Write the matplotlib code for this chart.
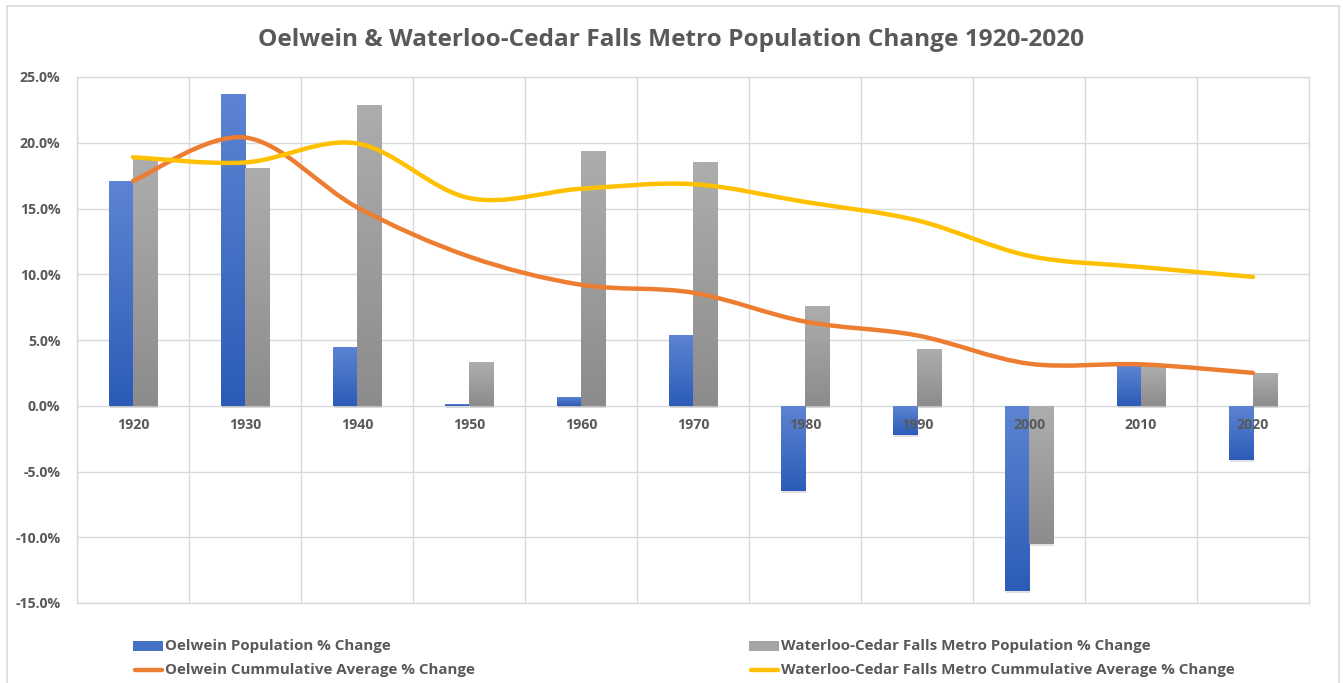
import numpy as np
import matplotlib
matplotlib.use("Agg")
import matplotlib.pyplot as plt
from matplotlib.path import Path
from matplotlib.patches import PathPatch, Rectangle
from matplotlib.lines import Line2D
from matplotlib.ticker import FuncFormatter
import matplotlib.transforms as mtransforms

plt.rcParams["font.family"] = ["Open Sans", "DejaVu Sans"]

years = ["1920", "1930", "1940", "1950", "1960", "1970", "1980", "1990", "2000", "2010", "2020"]
oelwein_change = [17.1, 23.7, 4.5, 0.1, 0.7, 5.4, -6.5, -2.2, -14.1, 3.0, -4.1]
metro_change = [18.9, 18.1, 22.9, 3.3, 19.4, 18.5, 7.6, 4.3, -10.5, 3.0, 2.5]
oelwein_cum_avg = [17.1, 20.4, 15.1, 11.35, 9.2, 8.6, 6.4, 5.35, 3.2, 3.15, 2.5]
metro_cum_avg = [18.9, 18.5, 19.95, 15.8, 16.5, 16.85, 15.5, 14.1, 11.4, 10.55, 9.8]

TEXT = "#595959"
GRID = "#d9d9d9"
BLUE_TOP, BLUE_BOT = "#5d84d2", "#2c5cb8"
GRAY_TOP, GRAY_BOT = "#adadad", "#8c8c8c"
ORANGE = "#ed7d31"
YELLOW = "#ffc000"

W, H = 1343, 683
fig = plt.figure(figsize=(W / 100, H / 100), dpi=100)
ax = fig.add_axes([77 / W, 1 - 603 / H, (1309 - 77) / W, (603 - 77) / H])

# outer chart frame
fig.add_artist(Line2D([7 / W, 7 / W], [0, 1 - 6 / H], transform=fig.transFigure, color=GRID, lw=1.2))
fig.add_artist(Line2D([7 / W, 1339 / W], [1 - 6 / H, 1 - 6 / H], transform=fig.transFigure, color=GRID, lw=1.2))
fig.add_artist(Line2D([1339 / W, 1339 / W], [0, 1 - 6 / H], transform=fig.transFigure, color=GRID, lw=1.2))

x = np.arange(len(years))
bw = 0.215


def gradient_bar(ax, xc, val, top_color, bot_color):
    lo, hi = min(0, val), max(0, val)
    if hi - lo <= 0:
        return
    c1 = np.array(matplotlib.colors.to_rgb(top_color))
    c2 = np.array(matplotlib.colors.to_rgb(bot_color))
    t = np.linspace(0, 1, 64)[:, None]
    img = (c1 * (1 - t) + c2 * t)[:, None, :]
    # soft drop shadow
    sh = mtransforms.offset_copy(ax.transData, fig=fig, x=1.0, y=-1.5, units="points")
    ax.add_patch(Rectangle((xc - bw / 2, lo), bw, hi - lo, transform=sh,
                           facecolor="#000000", alpha=0.12, lw=0, zorder=2))
    im = ax.imshow(img, extent=[xc - bw / 2, xc + bw / 2, lo, hi], aspect="auto",
                   origin="upper", zorder=3, interpolation="bilinear")
    clip = Rectangle((xc - bw / 2, lo), bw, hi - lo, transform=ax.transData)
    im.set_clip_path(clip)


for i in x:
    gradient_bar(ax, i - bw / 2, oelwein_change[i], BLUE_TOP, BLUE_BOT)
    gradient_bar(ax, i + bw / 2, metro_change[i], GRAY_TOP, GRAY_BOT)


def smooth_path(xs, ys):
    # cubic bezier segments through every point (spreadsheet-style smoothing)
    pts = np.column_stack([xs, ys]).astype(float)
    n = len(pts)
    verts = [pts[0]]
    codes = [Path.MOVETO]
    for k in range(n - 1):
        p0 = pts[k - 1] if k > 0 else pts[k]
        p1, p2 = pts[k], pts[k + 1]
        p3 = pts[k + 2] if k + 2 < n else pts[k + 1]
        verts += [p1 + (p2 - p0) / 6, p2 - (p3 - p1) / 6, p2]
        codes += [Path.CURVE4] * 3
    return Path(verts, codes)


for series, color in [(oelwein_cum_avg, ORANGE), (metro_cum_avg, YELLOW)]:
    ax.add_patch(PathPatch(smooth_path(x, series), facecolor="none", edgecolor=color,
                           lw=3.2, capstyle="round", joinstyle="round", zorder=5))

ax.set_xlim(-0.5, len(years) - 0.5)
ax.set_ylim(-15, 25)
ax.set_yticks(np.arange(-15, 26, 5))
ax.yaxis.set_major_formatter(FuncFormatter(lambda v, p: f"{v:.1f}%"))
ax.set_xticks(np.arange(-0.5, len(years), 1))
ax.set_xticklabels([])
ax.tick_params(length=0)
ax.tick_params(axis="y", pad=12, labelsize=10.2, labelcolor=TEXT)
for lab in ax.get_yticklabels():
    lab.set_fontweight("bold")
ax.grid(True, color=GRID, lw=1.0, zorder=0)
ax.set_axisbelow(True)
for s in ax.spines.values():
    s.set_color(GRID)
    s.set_linewidth(1.0)

for i, yr in enumerate(years):
    ax.annotate(yr, (i, 0), xytext=(0, -14), textcoords="offset points",
                ha="center", va="center", fontsize=10.2, fontweight="bold", color=TEXT, zorder=6)

fig.text(0.5, 1 - 40 / H, "Oelwein & Waterloo-Cedar Falls Metro Population Change 1920-2020",
         ha="center", va="center", fontsize=17.6, fontweight="bold", color=TEXT)

# legend drawn in figure pixels
legend_items = [
    (133, 646, "bar", "#4472c4", "Oelwein Population % Change"),
    (749, 646, "bar", "#a5a5a5", "Waterloo-Cedar Falls Metro Population % Change"),
    (133, 670, "line", ORANGE, "Oelwein Cummulative Average % Change"),
    (749, 670, "line", YELLOW, "Waterloo-Cedar Falls Metro Cummulative Average % Change"),
]
for px, py, kind, color, label in legend_items:
    fy = 1 - py / H
    if kind == "bar":
        fig.add_artist(Rectangle((px / W, fy - 5 / H), 30 / W, 10 / H, transform=fig.transFigure,
                                 facecolor=color, lw=0))
    else:
        fig.add_artist(Line2D([(px + 2) / W, (px + 29) / W], [fy, fy], transform=fig.transFigure,
                              color=color, lw=3.2, solid_capstyle="round"))
    fig.text((px + 32) / W, fy, label, ha="left", va="center", fontsize=10.9,
             fontweight="bold", color=TEXT)

fig.savefig("out.png", dpi=100)
